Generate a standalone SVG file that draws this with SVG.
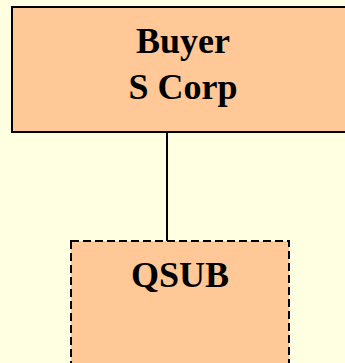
<svg xmlns="http://www.w3.org/2000/svg" width="345" height="363" viewBox="0 0 345 363">
  <style>
    .box { fill: #FFC896; stroke: #000; stroke-width: 2; }
    .dashed { stroke-dasharray: 8 4; }
    .label { font-family: "Liberation Serif", "Times New Roman", serif; font-weight: bold; font-size: 36px; fill: #000; text-anchor: middle; }
    .link { stroke: #000; stroke-width: 2; fill: none; }
  </style>
  <rect width="345" height="363" fill="#FFFFE1"/>
  <g id="connectors">
    <line class="link" x1="167" y1="132" x2="167" y2="241"/>
  </g>
  <g id="buyer">
    <rect class="box" x="12" y="7" width="344" height="125"/>
    <text class="label" x="183" y="53">Buyer</text>
    <text class="label" x="183" y="99">S Corp</text>
  </g>
  <g id="qsub">
    <rect class="box dashed" x="71" y="241" width="218" height="140"/>
    <text class="label" x="180" y="287">QSUB</text>
  </g>
</svg>
